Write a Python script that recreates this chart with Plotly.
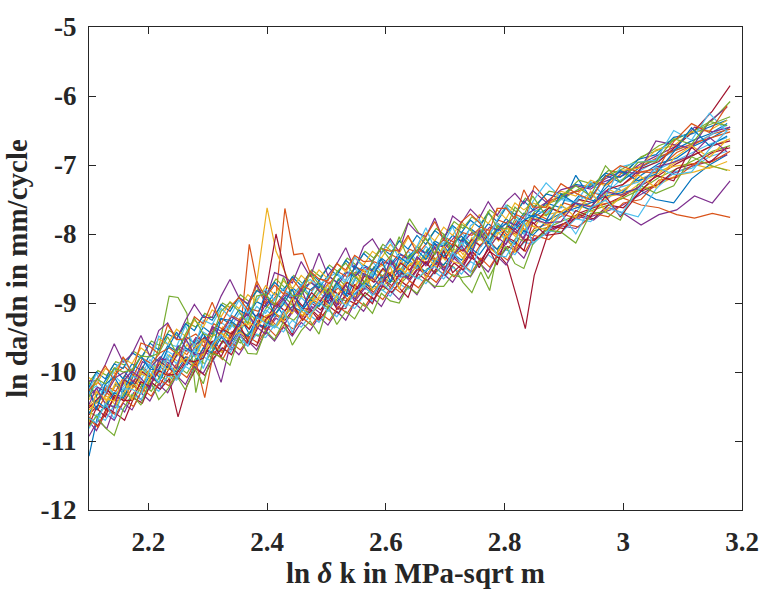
import plotly.graph_objects as go

# ---- data ----
# two sampling grids in ln(delta K) (specimens were not all sampled at the same points)
X_A = [2.100, 2.115, 2.130, 2.145, 2.160, 2.175, 2.190, 2.205, 2.220, 2.235,
       2.250, 2.265, 2.280, 2.295, 2.310, 2.325, 2.340, 2.355, 2.370, 2.385,
       2.400, 2.415, 2.430, 2.445, 2.460, 2.475, 2.490, 2.505, 2.520, 2.535,
       2.550, 2.565, 2.580, 2.595, 2.610, 2.625, 2.640, 2.655, 2.670, 2.685,
       2.700, 2.715, 2.730, 2.745, 2.760, 2.775, 2.790, 2.805, 2.820, 2.835,
       2.850, 2.875, 2.900, 2.925, 2.950, 2.975, 3.000, 3.030, 3.060, 3.090,
       3.120, 3.150, 3.180]
X_B = [2.1000, 2.1125, 2.1275, 2.1425, 2.1575, 2.1725, 2.1875, 2.2025, 2.2175, 2.2325,
       2.2475, 2.2625, 2.2775, 2.2925, 2.3075, 2.3225, 2.3375, 2.3525, 2.3675, 2.3825,
       2.3975, 2.4125, 2.4275, 2.4425, 2.4575, 2.4725, 2.4875, 2.5025, 2.5175, 2.5325,
       2.5475, 2.5625, 2.5775, 2.5925, 2.6075, 2.6225, 2.6375, 2.6525, 2.6675, 2.6825,
       2.6975, 2.7125, 2.7275, 2.7425, 2.7575, 2.7725, 2.7875, 2.8025, 2.8175, 2.8325,
       2.8475, 2.8700, 2.8950, 2.9200, 2.9450, 2.9700, 2.9950, 3.0250, 3.0550, 3.0850,
       3.1150, 3.1450, 3.1750]

S01 = [-11.22,-10.62,-10.45,-10.18,-10.35,-10.05,-10.21,-9.92,-10.10,-9.85,
       -9.62,-9.90,-9.71,-9.48,-9.66,-9.38,-9.52,-9.21,-9.45,-9.18,
       -9.30,-9.02,-9.21,-8.88,-9.10,-8.92,-8.75,-9.02,-8.70,-8.91,
       -8.62,-8.80,-8.55,-8.72,-8.41,-8.60,-8.38,-8.52,-8.25,-8.44,
       -8.20,-8.35,-8.08,-8.26,-7.98,-8.15,-7.92,-8.06,-7.85,-7.98,
       -7.75,-7.62,-7.70,-7.45,-7.52,-7.30,-7.38,-7.15,-6.98,-6.90,-6.72,-6.60,-6.45]
S02 = [-10.32,-10.45,-10.20,-10.28,-10.05,-10.15,-9.92,-10.05,-9.80,-9.92,
       -9.66,-9.75,-9.52,-9.64,-9.38,-9.50,-9.28,-9.40,-8.15,-8.80,
       -9.05,-8.90,-7.63,-8.30,-8.28,-8.62,-8.85,-8.70,-8.90,-8.62,
       -8.55,-8.72,-8.48,-8.65,-8.40,-8.58,-8.30,-8.50,-8.28,-8.40,
       -8.15,-8.30,-8.05,-8.22,-7.95,-8.10,-7.88,-8.02,-7.80,-7.95,
       -7.70,-7.80,-7.55,-7.62,-7.40,-7.48,-7.28,-7.10,-7.05,-6.82,-6.70,-6.55,-6.48]
S03 = [-10.50,-10.30,-10.42,-10.15,-10.30,-10.02,-10.18,-9.90,-10.05,-9.75,
       -9.85,-9.60,-9.78,-9.50,-9.62,-9.35,-9.48,-9.22,-9.38,-8.55,
       -7.62,-8.25,-8.55,-8.85,-8.72,-8.98,-8.80,-8.95,-8.70,-8.85,
       -8.60,-8.78,-8.52,-8.45,-8.62,-8.38,-8.55,-8.30,-8.45,-8.22,
       -8.38,-8.12,-8.30,-8.05,-8.18,-7.95,-8.10,-7.90,-8.02,-7.78,
       -7.90,-7.60,-7.72,-7.50,-7.62,-7.35,-7.45,-7.25,-7.12,-6.95,-6.85,-6.72,-6.62]
S04 = [-10.93,-10.70,-10.82,-10.45,-10.58,-10.30,-10.42,-10.15,-10.25,-10.02,
       -10.10,-9.85,-9.95,-9.70,-9.82,-9.55,-9.68,-9.45,-9.55,-9.32,
       -9.40,-9.22,-9.30,-9.10,-9.25,-9.05,-9.15,-8.95,-9.08,-8.85,
       -8.95,-8.78,-8.88,-8.65,-8.80,-8.55,-8.68,-8.50,-8.62,-8.42,
       -8.55,-8.35,-8.48,-8.25,-8.40,-8.18,-8.30,-8.10,-8.22,-8.00,
       -8.08,-7.92,-7.85,-7.75,-7.80,-7.62,-7.70,-7.87,-7.72,-7.65,-7.45,-7.55,-7.23]
S05 = [-10.15,-10.40,-10.25,-10.35,-10.10,-10.22,-9.95,-10.08,-9.55,-8.90,
       -8.92,-9.15,-10.30,-9.70,-9.45,-9.58,-9.30,-9.42,-9.15,-9.28,
       -9.05,-9.15,-8.92,-9.05,-8.80,-8.95,-8.72,-8.88,-8.65,-8.78,
       -8.55,-8.70,-8.48,-8.62,-8.38,-8.52,-8.30,-8.45,-8.22,-8.38,
       -8.12,-8.28,-8.05,-8.18,-7.95,-8.08,-7.85,-7.98,-7.75,-7.88,
       -7.68,-7.55,-7.48,-7.35,-7.28,-7.15,-7.05,-6.90,-6.72,-6.62,-6.50,-6.35,-6.08]
S06 = [-10.28,-10.20,-10.35,-10.05,-10.18,-9.95,-10.05,-9.82,-9.95,-9.70,
       -9.78,-9.55,-9.65,-9.42,-9.50,-9.28,-9.38,-9.15,-9.25,-9.05,
       -9.15,-8.95,-8.80,-8.98,-8.75,-8.88,-8.68,-8.80,-8.58,-8.72,
       -8.50,-8.62,-8.40,-8.55,-8.35,-8.48,-8.25,-8.38,-8.18,-8.30,
       -8.08,-8.20,-7.98,-8.12,-7.92,-8.02,-7.85,-7.95,-7.72,-7.85,
       -7.65,-7.70,-7.50,-7.55,-7.40,-7.42,-7.22,-7.10,-6.95,-6.80,-6.70,-6.58,-6.42]
S07 = [-10.62,-10.48,-10.55,-10.35,-10.42,-10.20,-10.30,-10.08,-10.18,-9.95,
       -10.05,-9.82,-9.90,-9.68,-9.75,-9.55,-9.62,-9.40,-9.50,-9.30,
       -9.38,-9.18,-9.25,-9.08,-9.20,-9.00,-9.10,-8.92,-9.02,-8.85,
       -8.92,-8.75,-8.85,-8.65,-8.75,-8.55,-8.65,-8.48,-8.58,-8.40,
       -8.50,-8.32,-8.45,-8.25,-8.38,-8.20,-8.30,-8.45,-8.90,-9.37,
       -8.60,-7.95,-7.85,-7.70,-7.62,-7.55,-7.45,-7.30,-7.15,-6.98,-6.85,-6.72,-6.65]
S08 = [-10.20,-10.35,-10.12,-9.95,-10.10,-9.88,-9.98,-9.75,-9.85,-9.62,
       -9.70,-9.48,-9.58,-9.35,-9.45,-9.22,-9.30,-9.10,-9.18,-8.98,
       -9.05,-8.85,-8.95,-8.78,-8.88,-8.70,-8.78,-8.60,-8.70,-8.55,
       -8.62,-8.45,-8.52,-8.35,-8.45,-8.28,-8.35,-8.18,-8.28,-8.10,
       -8.18,-8.02,-8.10,-7.92,-8.02,-7.85,-7.95,-7.78,-7.88,-7.70,
       -7.75,-7.55,-7.62,-7.15,-7.48,-7.15,-7.25,-7.05,-6.92,-6.78,-6.65,-6.55,-6.40]
S09 = [-10.48,-10.55,-10.30,-10.42,-10.38,-10.12,-10.25,-10.15,-9.92,-10.05,
       -9.85,-9.78,-9.92,-9.60,-9.55,-9.70,-9.42,-9.38,-9.52,-9.25,
       -9.18,-9.32,-9.10,-9.05,-9.20,-8.95,-9.02,-8.90,-8.78,-8.95,
       -8.80,-8.70,-8.85,-8.60,-8.55,-8.68,-8.45,-8.52,-8.40,-8.35,
       -8.48,-8.30,-8.22,-8.35,-8.15,-8.10,-8.25,-8.02,-7.98,-8.10,
       -7.92,-7.85,-7.72,-7.78,-7.60,-7.55,-7.48,-7.58,-7.62,-7.72,-7.77,-7.70,-7.76]
S10 = [-10.40,-10.28,-10.45,-10.22,-10.12,-10.25,-9.98,-10.05,-9.90,-9.82,
       -9.95,-9.70,-9.60,-9.75,-9.48,-9.42,-9.55,-9.25,-9.32,-9.18,
       -9.28,-9.05,-9.00,-9.15,-8.90,-8.98,-8.85,-8.80,-8.92,-8.70,
       -8.75,-8.60,-8.68,-8.52,-8.58,-8.45,-8.40,-8.50,-8.32,-8.38,
       -8.25,-8.30,-8.15,-8.22,-8.05,-8.12,-7.98,-8.05,-7.88,-7.95,
       -7.80,-7.72,-7.68,-7.55,-7.60,-7.42,-7.38,-7.22,-7.10,-7.02,-6.98,-7.05,-6.95]
S11 = [-10.35,-10.22,-10.30,-10.08,-10.00,-10.15,-9.85,-9.92,-9.78,-9.88,
       -9.62,-9.70,-9.50,-9.55,-9.35,-9.42,-9.20,-9.28,-9.10,-9.22,
       -8.98,-9.05,-8.88,-8.95,-8.78,-8.70,-8.85,-8.62,-8.72,-8.55,
       -8.60,-8.48,-8.55,-8.40,-8.45,-8.30,-8.38,-8.22,-8.30,-8.15,
       -8.20,-8.05,-8.12,-7.98,-8.05,-7.90,-7.95,-7.82,-7.88,-7.72,
       -7.65,-7.52,-7.45,-7.38,-7.30,-7.22,-7.15,-6.98,-6.85,-6.72,-6.45,-6.52,-6.45]
S12 = [-10.58,-10.65,-10.45,-10.52,-10.30,-10.40,-10.18,-10.28,-10.05,-10.15,
       -9.92,-10.02,-9.80,-9.88,-9.65,-9.72,-9.50,-9.58,-9.42,-9.48,
       -9.28,-9.35,-9.18,-9.25,-9.10,-9.15,-9.00,-9.08,-8.92,-8.98,
       -8.85,-8.90,-8.75,-8.82,-8.68,-8.72,-8.58,-8.65,-8.50,-8.55,
       -8.42,-8.48,-8.70,-8.85,-8.55,-8.82,-8.18,-8.22,-8.05,-8.12,
       -7.95,-7.90,-7.80,-7.72,-7.65,-7.58,-7.48,-7.35,-7.18,-7.05,-6.92,-6.80,-6.72]
S13 = [-10.30,-10.45,-10.18,-10.32,-10.22,-10.05,-10.12,-9.88,-10.02,-9.75,
       -9.88,-9.65,-9.78,-9.52,-9.58,-9.45,-9.30,-9.42,-9.20,-9.35,
       -9.10,-9.20,-8.98,-9.12,-8.92,-9.05,-8.85,-8.95,-8.75,-8.88,
       -8.65,-8.78,-8.55,-8.68,-8.45,-8.58,-8.35,-8.50,-8.28,-8.42,
       -8.20,-8.35,-8.12,-8.28,-8.05,-8.18,-7.95,-8.10,-7.88,-8.00,
       -7.80,-7.85,-7.60,-7.68,-7.45,-7.52,-7.32,-7.25,-7.08,-6.95,-6.82,-6.70,-6.60]
S14 = [-10.52,-10.38,-10.25,-10.40,-10.12,-10.20,-10.00,-10.10,-9.85,-9.95,
       -9.72,-9.85,-9.60,-9.50,-9.62,-9.38,-9.45,-9.25,-9.38,-9.15,
       -9.22,-9.00,-9.12,-8.90,-9.05,-8.85,-8.98,-8.78,-8.88,-8.70,
       -8.80,-8.60,-8.70,-8.50,-8.62,-8.42,-8.52,-8.35,-8.45,-8.25,
       -8.35,-8.15,-8.25,-8.08,-8.18,-7.98,-8.08,-7.88,-7.98,-7.80,
       -7.85,-7.62,-7.70,-7.50,-7.55,-7.35,-7.28,-7.05,-6.95,-6.72,-6.50,-6.22,-5.85]
S15 = [-10.60,-10.42,-10.52,-10.30,-10.38,-10.15,-10.28,-10.05,-10.15,-9.92,
       -10.00,-9.78,-9.88,-9.65,-9.72,-9.50,-9.60,-9.40,-9.48,-9.30,
       -9.35,-9.15,-9.22,-9.05,-9.12,-8.95,-9.05,-8.88,-8.98,-8.80,
       -8.88,-8.70,-8.78,-8.62,-8.70,-8.52,-8.62,-8.45,-8.55,-8.38,
       -8.45,-8.28,-8.38,-8.20,-8.30,-8.12,-8.22,-8.05,-8.15,-7.95,
       -8.02,-7.82,-7.70,-7.62,-7.55,-7.45,-7.40,-7.35,-7.50,-7.55,-7.20,-7.00,-6.85]
S16 = [-10.25,-10.15,-10.28,-10.02,-9.92,-10.05,-9.80,-9.88,-9.72,-9.65,
       -9.75,-9.52,-9.45,-9.58,-9.30,-9.38,-9.18,-9.25,-9.08,-9.12,
       -8.95,-9.02,-8.85,-8.92,-8.75,-8.82,-8.65,-8.72,-8.55,-8.62,
       -8.48,-8.55,-8.40,-8.45,-8.30,-8.38,-8.22,-8.28,-8.12,-8.20,
       -8.05,-8.12,-7.98,-8.02,-7.90,-7.95,-7.80,-7.85,-7.72,-7.78,
       -7.30,-7.55,-7.42,-7.38,-7.25,-7.28,-7.10,-7.02,-6.88,-6.78,-6.68,-6.60,-6.52]
S17 = [-10.55,-10.42,-10.35,-10.48,-10.25,-10.18,-10.30,-10.05,-9.98,-10.10,
       -9.88,-9.80,-9.92,-9.68,-9.62,-9.72,-9.48,-9.42,-9.55,-9.30,
       -9.22,-9.35,-9.15,-9.08,-9.18,-8.98,-8.92,-9.05,-8.85,-8.80,
       -8.92,-8.70,-8.65,-8.78,-8.55,-8.50,-8.62,-8.40,-8.35,-8.48,
       -8.28,-8.22,-8.35,-8.12,-8.08,-8.20,-7.98,-7.92,-8.05,-7.85,
       -7.78,-7.88,-7.65,-7.58,-7.68,-7.45,-7.42,-7.35,-7.28,-7.15,-7.10,-7.02,-7.08]
S18 = [-10.72,-10.85,-10.60,-10.70,-10.45,-10.55,-10.30,-10.42,-10.18,-10.30,
       -10.05,-10.18,-9.92,-10.02,-9.78,-10.15,-9.62,-9.75,-9.55,-9.68,
       -9.42,-9.55,-9.35,-9.48,-9.28,-9.40,-9.20,-9.32,-9.12,-9.25,
       -9.00,-9.12,-8.92,-9.05,-8.82,-8.95,-8.75,-8.88,-8.65,-8.78,
       -8.58,-8.70,-8.50,-8.62,-8.42,-8.55,-8.32,-8.45,-8.22,-8.35,
       -8.08,-8.00,-7.88,-7.92,-7.75,-7.68,-7.60,-7.45,-7.30,-7.12,-7.02,-6.95,-6.85]
S19 = [-10.15,-9.98,-10.05,-9.85,-9.90,-9.70,-9.78,-9.55,-9.62,-9.40,
       -9.48,-9.28,-9.35,-9.15,-9.22,-9.00,-9.08,-8.88,-8.98,-8.80,
       -8.85,-8.65,-8.78,-8.60,-8.72,-8.52,-8.62,-8.45,-8.55,-8.35,
       -8.45,-8.25,-8.35,-8.15,-8.25,-8.08,-7.78,-7.98,-8.10,-7.92,
       -8.02,-7.82,-7.92,-7.75,-7.85,-7.65,-7.75,-7.58,-7.68,-7.48,
       -7.60,-7.38,-7.42,-7.22,-7.28,-7.08,-7.12,-6.88,-6.78,-6.62,-6.50,-6.40,-6.30]
S20 = [-10.82,-10.62,-10.70,-10.48,-10.55,-10.32,-10.40,-10.18,-10.28,-10.05,
       -10.12,-9.92,-10.00,-9.78,-9.85,-9.65,-9.72,-9.52,-9.62,-9.45,
       -9.50,-9.32,-9.42,-9.25,-9.35,-9.18,-9.28,-9.10,-9.20,-9.00,
       -9.08,-8.90,-8.98,-8.80,-8.90,-8.72,-8.80,-8.62,-8.72,-8.55,
       -8.65,-8.48,-8.58,-8.40,-8.48,-8.30,-8.40,-8.22,-8.30,-8.12,
       -8.15,-7.95,-7.98,-7.78,-7.82,-7.62,-7.68,-7.75,-7.35,-7.10,-7.05,-6.88,-6.80]
S21 = [-10.65,-10.78,-10.52,-10.60,-10.70,-10.38,-10.45,-10.15,-10.25,-10.10,
       -10.65,-10.20,-9.95,-10.05,-9.80,-9.65,-9.75,-9.48,-9.60,-9.35,
       -8.75,-8.00,-8.55,-9.05,-9.25,-9.10,-9.22,-9.05,-9.15,-8.95,
       -9.02,-8.85,-8.95,-8.75,-8.85,-8.68,-8.78,-8.58,-8.68,-8.50,
       -8.60,-8.42,-8.52,-8.35,-8.45,-8.25,-8.35,-8.18,-8.25,-8.08,
       -8.10,-7.88,-7.92,-7.72,-7.78,-7.58,-7.62,-7.38,-7.28,-7.05,-6.98,-6.82,-6.75]
S22 = [-10.22,-10.00,-10.10,-9.88,-9.95,-9.72,-9.80,-9.58,-9.68,-9.45,
       -9.52,-9.30,-9.40,-9.18,-9.25,-9.02,-9.12,-8.92,-9.02,-8.82,
       -8.90,-8.70,-8.82,-8.62,-8.75,-8.55,-8.68,-8.48,-8.60,-8.38,
       -8.50,-8.28,-8.40,-8.20,-8.30,-8.10,-8.22,-8.02,-8.15,-7.95,
       -8.05,-7.88,-7.98,-7.80,-7.90,-7.70,-7.82,-7.62,-7.72,-7.52,
       -7.65,-7.42,-7.48,-7.28,-7.32,-7.12,-7.18,-6.92,-6.85,-6.60,-6.55,-6.45,-6.35]
S23 = [-10.68,-10.80,-10.55,-10.62,-10.40,-10.50,-10.25,-10.35,-10.12,-10.20,
       -9.98,-10.08,-9.85,-10.37,-9.70,-9.82,-9.58,-9.68,-9.50,-9.58,
       -9.35,-9.48,-9.30,-9.38,-9.22,-9.32,-9.15,-9.25,-9.05,-9.15,
       -8.95,-9.05,-8.85,-8.95,-8.75,-8.85,-8.68,-8.78,-8.60,-8.70,
       -8.52,-8.62,-8.45,-8.55,-8.35,-8.48,-8.28,-8.38,-8.15,-8.25,
       -8.02,-8.08,-7.85,-7.90,-7.70,-7.75,-7.55,-7.50,-7.22,-7.18,-6.98,-6.95,-6.80]
S24 = [-10.08,-10.18,-9.95,-10.02,-9.80,-9.88,-9.65,-9.75,-9.52,-9.60,
       -9.38,-9.48,-9.25,-9.35,-9.10,-9.20,-8.98,-9.08,-8.88,-8.98,
       -8.75,-8.88,-8.68,-8.80,-8.60,-8.72,-8.52,-8.65,-8.42,-8.55,
       -8.35,-8.45,-8.25,-8.35,-8.15,-8.28,-8.05,-8.20,-7.98,-8.10,
       -7.90,-8.02,-7.82,-7.95,-7.72,-7.85,-7.65,-7.78,-7.55,-7.65,
       -7.55,-7.62,-7.38,-7.45,-7.22,-7.30,-7.08,-7.05,-6.78,-6.72,-6.52,-6.50,-6.35]
S25 = [-10.13,-10.13,-9.89,-9.59,-9.86,-9.74,-9.47,-9.77,-9.40,-9.29,
       -9.53,-9.25,-9.02,-9.21,-9.21,-8.90,-8.66,-8.92,-9.01,-8.74,
       -8.96,-8.56,-8.61,-8.71,-8.40,-8.62,-8.28,-8.60,-8.43,-8.20,
       -8.51,-8.18,-8.07,-8.28,-8.07,-8.26,-7.84,-7.98,-8.04,-7.77,
       -8.10,-7.74,-7.84,-7.64,-7.77,-7.53,-7.73,-7.53,-7.41,-7.56,
       -7.37,-7.54,-7.36,-7.30,-7.35,-7.20,-7.10,-7.12,-6.65,-6.71,-6.76,-6.37,-6.16]
S26 = [-10.79,-10.64,-10.81,-10.92,-10.54,-10.33,-10.48,-10.11,-10.40,-10.25,
       -10.05,-10.26,-9.94,-10.17,-9.73,-9.78,-9.90,-9.50,-9.73,-9.74,
       -9.40,-9.53,-9.27,-9.61,-9.40,-9.26,-9.45,-9.04,-9.31,-9.12,
       -9.23,-9.00,-9.15,-8.86,-8.97,-9.00,-8.76,-8.86,-8.66,-8.76,
       -8.76,-8.59,-8.63,-8.61,-8.39,-8.65,-8.40,-8.18,-8.43,-8.50,
       -8.15,-7.94,-7.97,-8.13,-7.70,-7.68,-7.80,-7.28,-7.41,-7.30,-6.88,-7.00,-7.08]
S27 = [-10.27,-10.02,-10.31,-9.96,-9.82,-10.01,-9.77,-9.93,-9.48,-9.59,
       -9.63,-9.33,-9.64,-9.25,-9.31,-9.08,-9.20,-8.96,-9.15,-8.95,
       -8.80,-8.96,-8.79,-8.91,-8.74,-8.66,-8.75,-8.63,-8.56,-8.68,
       -8.33,-8.49,-8.61,-8.26,-8.10,-8.36,-8.39,-8.18,-7.91,-8.22,
       -8.13,-7.89,-8.22,-7.88,-7.79,-8.05,-7.80,-7.58,-7.79,-7.82,
       -7.53,-7.26,-7.47,-7.54,-7.24,-7.47,-7.03,-6.96,-6.93,-6.50,-6.64,-6.25,-6.52]
S28 = [-10.77,-10.52,-10.65,-10.34,-10.41,-10.41,-10.14,-10.21,-9.98,-10.05,
       -10.03,-9.83,-9.85,-9.80,-9.55,-9.78,-9.51,-9.30,-9.55,-9.62,
       -9.24,-9.13,-9.27,-9.46,-9.08,-9.09,-9.25,-8.84,-9.09,-9.08,
       -8.73,-8.89,-9.01,-8.70,-8.58,-8.78,-8.92,-8.58,-8.40,-8.58,
       -8.24,-8.56,-8.44,-8.26,-8.49,-8.19,-8.45,-8.04,-8.11,-8.24,
       -7.83,-8.02,-7.99,-7.66,-7.75,-7.45,-7.75,-7.42,-7.15,-7.23,-6.74,-6.97,-6.74]
S29 = [-10.25,-10.55,-10.18,-10.07,-10.29,-10.01,-9.77,-9.96,-9.97,-9.66,
       -9.42,-9.65,-9.73,-9.44,-9.66,-9.23,-9.25,-9.35,-9.02,-9.23,
       -8.85,-9.17,-9.02,-8.80,-9.13,-8.81,-8.71,-8.93,-8.71,-8.89,
       -8.46,-8.59,-8.64,-8.36,-8.69,-8.33,-8.43,-8.23,-8.37,-8.13,
       -8.33,-8.14,-8.03,-8.19,-8.00,-8.12,-7.94,-7.85,-7.93,-7.80,
       -7.73,-7.81,-7.42,-7.56,-7.65,-7.28,-7.08,-7.23,-7.13,-6.81,-6.46,-6.72,-6.58]
S30 = [-10.27,-10.12,-9.91,-10.12,-9.78,-10.01,-9.58,-9.63,-9.74,-9.31,
       -9.53,-9.52,-9.20,-9.30,-8.99,-9.30,-9.06,-8.92,-9.10,-8.68,
       -8.92,-8.74,-8.87,-8.65,-8.82,-8.54,-8.65,-8.68,-8.43,-8.52,
       -8.31,-8.40,-8.39,-8.21,-8.25,-8.23,-8.02,-8.28,-8.03,-7.82,
       -8.08,-8.16,-7.82,-7.71,-7.83,-8.02,-7.63,-7.63,-7.78,-7.36,
       -7.61,-7.61,-7.27,-7.41,-7.50,-7.17,-7.01,-7.10,-7.11,-6.66,-6.40,-6.53,-6.14]
S31 = [-10.73,-10.28,-10.39,-10.42,-10.11,-10.41,-10.02,-10.09,-9.86,-9.97,
       -9.71,-9.88,-9.67,-9.53,-9.65,-9.44,-9.54,-9.36,-9.27,-9.35,
       -9.19,-9.13,-9.27,-8.93,-9.11,-9.24,-8.90,-8.74,-8.99,-9.01,
       -8.79,-8.51,-8.81,-8.71,-8.47,-8.80,-8.46,-8.38,-8.64,-8.39,
       -8.18,-8.40,-8.44,-8.16,-7.93,-8.19,-8.29,-8.02,-8.27,-7.86,
       -7.89,-7.94,-7.57,-7.76,-7.38,-7.67,-7.47,-7.14,-7.33,-6.90,-6.72,-6.89,-6.63]
S32 = [-10.47,-10.23,-10.46,-10.51,-10.13,-9.99,-10.09,-10.25,-9.83,-9.81,
       -9.95,-9.51,-9.75,-9.72,-9.34,-9.48,-9.59,-9.29,-9.16,-9.35,
       -9.45,-9.11,-8.94,-9.12,-8.79,-9.11,-8.99,-8.81,-9.04,-8.73,
       -8.98,-8.57,-8.64,-8.77,-8.37,-8.61,-8.63,-8.33,-8.46,-8.19,
       -8.53,-8.31,-8.17,-8.36,-7.94,-8.22,-8.04,-8.15,-7.92,-8.07,
       -7.78,-7.84,-7.82,-7.55,-7.61,-7.38,-7.44,-7.33,-7.03,-6.96,-6.86,-6.60,-6.81]
S33 = [-10.37,-10.10,-10.17,-9.94,-10.00,-9.97,-9.77,-9.78,-9.73,-9.49,
       -9.73,-9.45,-9.22,-9.45,-9.49,-9.12,-8.99,-9.12,-9.30,-8.90,
       -8.87,-9.03,-8.63,-8.89,-8.90,-8.56,-8.73,-8.86,-8.55,-8.42,
       -8.61,-8.74,-8.39,-8.20,-8.38,-8.04,-8.36,-8.24,-8.06,-8.30,
       -8.00,-8.26,-7.86,-7.94,-8.07,-7.67,-7.91,-7.92,-7.61,-7.73,
       -7.45,-7.74,-7.47,-7.30,-7.45,-7.01,-7.25,-6.96,-6.95,-6.62,-6.70,-6.37,-6.43]
S34 = [-10.67,-10.74,-10.45,-10.68,-10.24,-10.25,-10.32,-9.97,-10.16,-9.79,
       -10.09,-9.90,-9.66,-9.95,-9.59,-9.46,-9.66,-9.45,-9.63,-9.20,
       -9.30,-9.36,-9.10,-9.43,-9.08,-9.18,-8.98,-9.12,-8.87,-9.06,
       -8.86,-8.74,-8.89,-8.70,-8.82,-8.64,-8.56,-8.65,-8.53,-8.47,
       -8.60,-8.26,-8.43,-8.56,-8.21,-8.05,-8.31,-8.33,-8.11,-7.83,
       -8.13,-7.99,-7.70,-8.00,-7.62,-7.51,-7.73,-7.37,-7.03,-7.14,-7.10,-6.77,-6.50]

# (series values, sampling grid) in plotting order
SERIES = [(S01, X_A), (S02, X_A), (S03, X_A), (S04, X_A), (S05, X_A), (S06, X_B),
          (S07, X_A), (S08, X_B), (S09, X_A), (S10, X_B), (S11, X_A), (S12, X_A),
          (S13, X_B), (S14, X_A), (S15, X_B), (S16, X_A), (S17, X_A), (S18, X_B),
          (S19, X_A), (S20, X_B), (S21, X_A), (S22, X_B), (S23, X_A), (S24, X_B),
          (S25, X_B), (S26, X_B), (S27, X_B), (S28, X_B), (S29, X_B), (S30, X_B),
          (S31, X_B), (S32, X_B), (S33, X_B), (S34, X_B)]

COLORS = ["#0072BD", "#D95319", "#EDB120", "#7E2F8E", "#77AC30", "#4DBEEE", "#A2142F"]

X_TICKS = [2.2, 2.4, 2.6, 2.8, 3.0, 3.2]
X_TICK_LABELS = ["2.2", "2.4", "2.6", "2.8", "3", "3.2"]
Y_TICKS = [-12, -11, -10, -9, -8, -7, -6, -5]
Y_TICK_LABELS = ["-12", "-11", "-10", "-9", "-8", "-7", "-6", "-5"]

X_TITLE = "ln <i>δ</i> k in MPa-sqrt m"
Y_TITLE = "ln da/dn in mm/cycle"

# ---- figure ----
FONT = "Liberation Serif, Times New Roman, serif"
AXC = "#262626"

fig = go.Figure()
for k, (ys, xs) in enumerate(SERIES):
    fig.add_trace(go.Scatter(
        x=xs, y=ys, mode="lines",
        line=dict(color=COLORS[k % len(COLORS)], width=1.2),
        showlegend=False, hoverinfo="skip"))

axis_common = dict(
    showline=True, linecolor=AXC, linewidth=1, mirror="ticks",
    ticks="inside", ticklen=7, tickwidth=1, tickcolor=AXC,
    showgrid=False, zeroline=False,
    tickfont=dict(family=FONT, size=27, color=AXC, weight="bold"),
)

fig.update_layout(
    width=771, height=592,
    margin=dict(l=89, r=19, t=18, b=74),
    paper_bgcolor="white", plot_bgcolor="white",
    xaxis=dict(range=[2.1, 3.2], tickvals=X_TICKS, ticktext=X_TICK_LABELS,
               ticklabelstandoff=8,
               title=dict(text=X_TITLE, standoff=2,
                          font=dict(family=FONT, size=29, color=AXC, weight="bold")),
               **axis_common),
    yaxis=dict(range=[-12, -5], tickvals=Y_TICKS, ticktext=Y_TICK_LABELS,
               ticklabelstandoff=6,
               title=dict(text=Y_TITLE, standoff=4,
                          font=dict(family=FONT, size=29, color=AXC, weight="bold")),
               **axis_common),
)

fig.write_html("out.html", config={"displayModeBar": False})
